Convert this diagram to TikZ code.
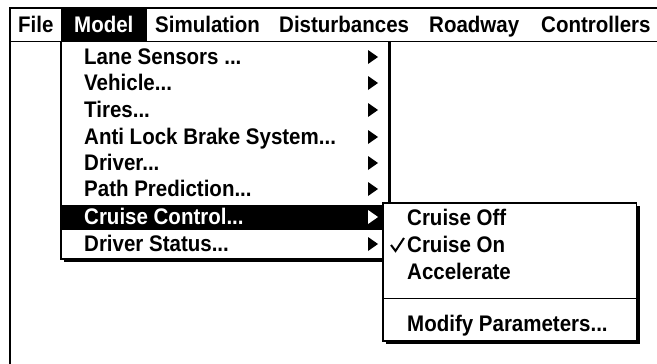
\documentclass[tikz,border=0pt]{standalone}
\usepackage{fontspec}
\setmainfont{Liberation Sans}
\newcommand{\mtext}[1]{\scalebox{1.0}[1.1]{#1}}
\begin{document}
\begin{tikzpicture}[x=1pt,y=-1pt,
  frame/.style={draw=black,line width=1.5pt},
  menutxt/.style={anchor=base west,inner sep=0pt,font=\fontsize{20.5}{24}\selectfont\bfseries},
  invtxt/.style={menutxt,text=white},
  tri/.style={fill=black},
  wtri/.style={fill=white}]
\useasboundingbox (0,0) rectangle (657,364);
% window
\draw[frame] (10,370) -- (10,8) -- (670,8);
\draw[frame] (10,41.5) -- (670,41.5);
% Model highlight
\fill[black] (61,8) rectangle (147,41.5);
% menu bar items
\node[menutxt] (file) at (18,32) {\mtext{File}};
\node[invtxt] (model) at (74,32) {\mtext{Model}};
\node[menutxt] (sim) at (155,32) {\mtext{Simulation}};
\node[menutxt] (dist) at (279,32) {\mtext{Disturbances}};
\node[menutxt] (road) at (429,32) {\mtext{Roadway}};
\node[menutxt] (ctrl) at (541,32) {\mtext{Controllers}};
% main menu
\fill[black] (63.5,41.5) rectangle (391,261.5);
\filldraw[fill=white,draw=black,line width=1.5pt] (61,41.5) rectangle (388.5,259);
% cruise control highlight
\fill[black] (61,204.5) rectangle (388.5,229.5);
\node[menutxt] (lane) at (84,64) {\mtext{Lane Sensors ...}};
\node[menutxt] (veh) at (84,90) {\mtext{Vehicle...}};
\node[menutxt] (tires) at (84,117) {\mtext{Tires...}};
\node[menutxt] (abs) at (84,144) {\mtext{Anti Lock Brake System...}};
\node[menutxt] (drv) at (84,170) {\mtext{Driver...}};
\node[menutxt] (path) at (84,196) {\mtext{Path Prediction...}};
\node[invtxt] (cruise) at (84,224) {\mtext{Cruise Control...}};
\node[menutxt] (status) at (84,251) {\mtext{Driver Status...}};
% submenu triangles
\foreach \yy in {57,83,110,137,163,189,244}{
  \fill[tri] (368,\yy-7) -- (378,\yy) -- (368,\yy+7) -- cycle;
}
\fill[wtri] (368,217-7) -- (378,217) -- (368,217+7) -- cycle;
% submenu
\fill[black] (386,206) rectangle (639.5,343.5);
\filldraw[fill=white,draw=black,line width=1.5pt] (383,203) rectangle (636.5,341);
\node[menutxt] (off) at (407,225) {\mtext{Cruise Off}};
\node[menutxt] (on) at (407,252) {\mtext{Cruise On}};
\node[menutxt] (acc) at (407,279) {\mtext{Accelerate}};
\draw[line width=1pt] (383,298) -- (636.5,298);
\node[menutxt] (mod) at (407,331) {\mtext{Modify Parameters...}};
% check mark
\draw[line width=2pt] (391,245) -- (395.5,251) -- (404,238);
\end{tikzpicture}
\end{document}
